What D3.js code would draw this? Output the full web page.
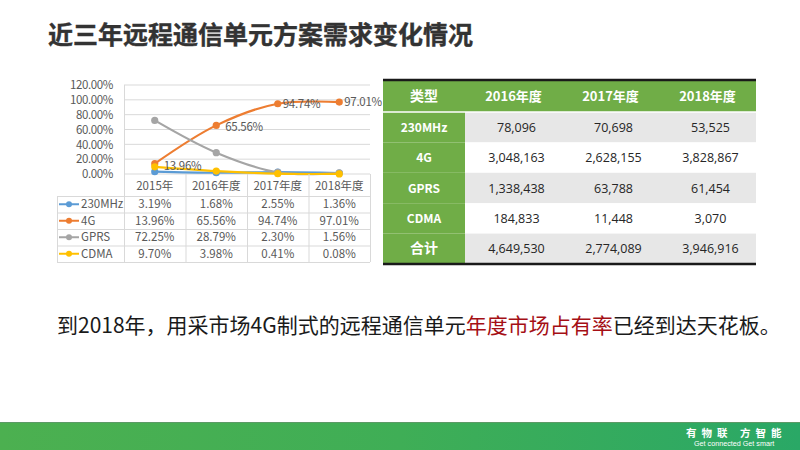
<!DOCTYPE html>
<html><head><meta charset="utf-8">
<script src="https://cdn.jsdelivr.net/npm/d3@7"></script>
<style>
html,body{margin:0;padding:0;background:#fff;}
svg{display:block;font-family:"Noto Sans CJK SC","Noto Sans",sans-serif;}
</style></head>
<body><svg id="c" width="800" height="450"></svg>
<script>
// ---- data ----
const categories = ["2015年", "2016年度", "2017年度", "2018年度"];
const seriesNames = ["230MHz", "4G", "GPRS", "CDMA"];
const values230 = [3.19, 1.68, 2.55, 1.36];
const values4G = [13.96, 65.56, 94.74, 97.01];
const valuesGPRS = [72.25, 28.79, 2.30, 1.56];
const valuesCDMA = [9.70, 3.98, 0.41, 0.08];
const yTicks = [0, 20, 40, 60, 80, 100, 120];
const seriesColors = ["#5b9bd5", "#ed7d31", "#a5a5a5", "#ffc000"];

const tableHeaders = ["类型", "2016年度", "2017年度", "2018年度"];
const tableRowNames = ["230MHz", "4G", "GPRS", "CDMA", "合计"];
const table2016 = ["78,096", "3,048,163", "1,338,438", "184,833", "4,649,530"];
const table2017 = ["70,698", "2,628,155", "63,788", "11,448", "2,774,089"];
const table2018 = ["53,525", "3,828,867", "61,454", "3,070", "3,946,916"];

const title = "近三年远程通信单元方案需求变化情况";

const svg = d3.select("#c");
const fmt = v => v.toFixed(2) + "%";
const small = 11.5;

// title
svg.append("text").attr("x", 48).attr("y", 44)
  .attr("font-size", 25).attr("font-weight", 700).attr("fill", "#333333")
  .attr("stroke", "#333333").attr("stroke-width", 0.4)
  .text(title);

// ---- line chart ----
const x = d3.scaleBand().domain(categories).range([124, 370]);
const y = d3.scaleLinear().domain([0, 120]).range([174, 85]);
const grid = svg.append("g");
grid.selectAll("line").data(yTicks).join("line")
  .attr("x1", 124).attr("x2", 370)
  .attr("y1", d => y(d)).attr("y2", d => y(d))
  .attr("stroke", "#d9d9d9").attr("stroke-width", 1);
grid.append("line").attr("x1", 124.5).attr("x2", 124.5).attr("y1", y(120)).attr("y2", y(0)).attr("stroke", "#d9d9d9");

const yAxis = d3.axisLeft(y).tickValues(yTicks).tickFormat(d => d.toFixed(2) + "%").tickSize(0).tickPadding(11);
const ya = svg.append("g").attr("transform", "translate(124,0)").call(yAxis);
ya.select(".domain").remove();
ya.selectAll("text").attr("font-size", small).attr("fill", "#595959")
  .attr("letter-spacing", -0.4).attr("font-family", "'Noto Sans CJK SC',sans-serif");

const allSeries = [values230, values4G, valuesGPRS, valuesCDMA];
const line = d3.line().x((d, i) => x(categories[i]) + x.bandwidth() / 2).y(d => y(d)).curve(d3.curveCatmullRom.alpha(0.5));
allSeries.forEach((vals, si) => {
  const g = svg.append("g");
  g.append("path").attr("d", line(vals)).attr("fill", "none")
    .attr("stroke", seriesColors[si]).attr("stroke-width", 2.2);
  g.selectAll("circle").data(vals).join("circle")
    .attr("cx", (d, i) => x(categories[i]) + x.bandwidth() / 2)
    .attr("cy", d => y(d)).attr("r", 3.6).attr("fill", seriesColors[si]);
});
// data labels on 4G
svg.append("g").selectAll("text").data(values4G).join("text")
  .attr("x", (d, i) => x(categories[i]) + x.bandwidth() / 2 + (i < 2 ? 9 : 5))
  .attr("y", (d, i) => y(d) + (i < 2 ? 6 : 4))
  .attr("font-size", small).attr("fill", "#595959").attr("letter-spacing", -0.3)
  .text(fmt);

// ---- data table under chart ----
const rowY = d3.scaleBand().domain(seriesNames).range([196, 262]);
const tg = svg.append("g");
const lc = "#d9d9d9";
[196, ...seriesNames.map(s => rowY(s) + rowY.bandwidth())].forEach(yy => {
  tg.append("line").attr("x1", 57).attr("x2", 370).attr("y1", yy + 0.5).attr("y2", yy + 0.5).attr("stroke", lc);
});
[124, ...categories.map(c => x(c) + x.bandwidth())].forEach(xx => {
  tg.append("line").attr("x1", xx + 0.5).attr("x2", xx + 0.5).attr("y1", 174).attr("y2", 262).attr("stroke", lc);
});
tg.append("line").attr("x1", 57.5).attr("x2", 57.5).attr("y1", 196).attr("y2", 262).attr("stroke", lc);
tg.selectAll(".hd").data(categories).join("text")
  .attr("x", d => x(d) + x.bandwidth() / 2).attr("y", 189.5)
  .attr("text-anchor", "middle").attr("font-size", small).attr("fill", "#595959").text(d => d);
seriesNames.forEach((s, si) => {
  const cy = rowY(s) + rowY.bandwidth() / 2;
  tg.append("line").attr("x1", 59).attr("x2", 79).attr("y1", cy).attr("y2", cy)
    .attr("stroke", seriesColors[si]).attr("stroke-width", 2);
  tg.append("circle").attr("cx", 69).attr("cy", cy).attr("r", 3).attr("fill", seriesColors[si]);
  tg.append("text").attr("x", 81).attr("y", cy + 4).attr("font-size", small).attr("fill", "#595959").text(s);
  allSeries[si].forEach((v, i) => {
    tg.append("text").attr("x", x(categories[i]) + x.bandwidth() / 2).attr("y", cy + 4)
      .attr("text-anchor", "middle").attr("font-size", small).attr("fill", "#595959").text(fmt(v));
  });
});

// ---- right table ----
const colX = [383, 465, 562, 659, 756];
const green = "#70ad47";
const rt = svg.append("g");
rt.append("rect").attr("x", colX[0]).attr("y", 80).attr("width", colX[4] - colX[0]).attr("height", 32).attr("fill", green);
const bodyY = d3.scaleBand().domain(tableRowNames).range([112, 264]);
const cols = [table2016, table2017, table2018];
tableRowNames.forEach((r, ri) => {
  const ry = bodyY(r), h = bodyY.bandwidth();
  rt.append("rect").attr("x", colX[0]).attr("y", ry).attr("width", colX[1] - colX[0]).attr("height", h).attr("fill", green);
  rt.append("rect").attr("x", colX[1]).attr("y", ry).attr("width", colX[4] - colX[1]).attr("height", h)
    .attr("fill", ri % 2 === 0 ? "#e7e7e7" : "#ffffff");
  rt.append("text").attr("x", (colX[0] + colX[1]) / 2).attr("y", ry + h / 2 + 4.5)
    .attr("text-anchor", "middle").attr("font-size", r === "合计" ? 14 : 12).attr("font-weight", 700)
    .attr("fill", "#ffffff").text(r);
  cols.forEach((c, ci) => {
    rt.append("text").attr("x", (colX[ci + 1] + colX[ci + 2]) / 2 + 3).attr("y", ry + h / 2 + 4.5)
      .attr("text-anchor", "middle").attr("font-size", 12.5).attr("fill", "#262626")
      .attr("font-family", "'Open Sans','Noto Sans',sans-serif").text(c[ri]);
  });
});
rt.append("line").attr("x1", colX[0]).attr("x2", colX[4]).attr("y1", 112).attr("y2", 112).attr("stroke", "#ffffff").attr("stroke-width", 1.5);
tableHeaders.forEach((hd, i) => {
  rt.append("text").attr("x", (colX[i] + colX[i + 1]) / 2).attr("y", 101)
    .attr("text-anchor", "middle").attr("font-size", i === 0 ? 14 : 13).attr("font-weight", 700)
    .attr("fill", "#ffffff").attr("font-family", "'Noto Sans CJK SC',serif").text(hd);
});
rt.append("line").attr("x1", colX[0]).attr("x2", colX[4]).attr("y1", 80).attr("y2", 80).attr("stroke", "#1a1a1a").attr("stroke-width", 2.5);
rt.append("line").attr("x1", colX[0]).attr("x2", colX[4]).attr("y1", 264).attr("y2", 264).attr("stroke", "#1a1a1a").attr("stroke-width", 2.5);

// ---- statement ----
const st = svg.append("text").attr("x", 57).attr("y", 333).attr("font-size", 21).attr("fill", "#1a1a1a");
st.append("tspan").text("到2018年，用采市场4G制式的远程通信单元");
st.append("tspan").attr("fill", "#a50f15").text("年度市场占有率");
st.append("tspan").text("已经到达天花板。");

// ---- footer band ----
const defs = svg.append("defs");
const lg = defs.append("linearGradient").attr("id", "fg").attr("x1", "0").attr("x2", "1").attr("y1", "0").attr("y2", "0");
lg.append("stop").attr("offset", "0").attr("stop-color", "#4cb050");
lg.append("stop").attr("offset", "0.5").attr("stop-color", "#3fae56");
lg.append("stop").attr("offset", "1").attr("stop-color", "#2aa866");
svg.append("rect").attr("x", 0).attr("y", 422).attr("width", 800).attr("height", 28).attr("fill", "url(#fg)");
svg.append("line").attr("x1", 0).attr("x2", 800).attr("y1", 422.5).attr("y2", 422.5).attr("stroke", "#5c9a66").attr("stroke-width", 1);
svg.append("text").attr("x", 686).attr("y", 437).attr("font-size", 10.5).attr("font-weight", 700)
  .attr("fill", "#ffffff").attr("letter-spacing", 5).text("有物联 方智能");
svg.append("text").attr("x", 694).attr("y", 446).attr("font-size", 7.2)
  .attr("fill", "#ffffff").attr("font-family", "'Liberation Sans',sans-serif").text("Get connected  Get smart");
</script></body></html>
